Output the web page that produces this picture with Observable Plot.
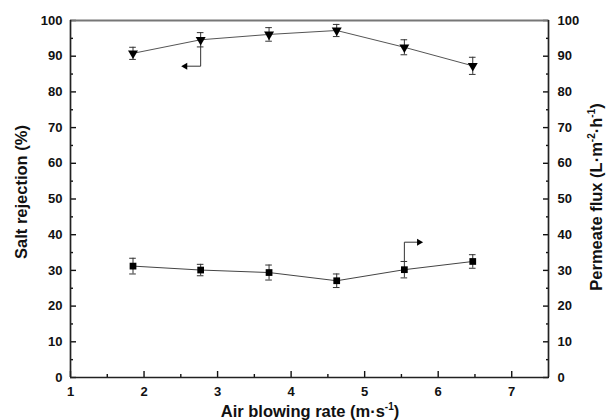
<!DOCTYPE html>
<html><head><meta charset="utf-8">
<script src="https://cdn.jsdelivr.net/npm/d3@7"></script>
<script src="https://cdn.jsdelivr.net/npm/@observablehq/plot@0.6"></script>
<style>body{margin:0;background:#fff}</style>
</head><body><div id="chart"></div>
<script>
const airRate = [1.85, 2.77, 3.70, 4.62, 5.54, 6.47];
const saltRejection = [90.8, 94.6, 96.1, 97.2, 92.5, 87.3];
const saltErr = [1.7, 2.0, 1.9, 1.7, 2.1, 2.4];
const permeateFlux = [31.2, 30.1, 29.4, 27.1, 30.2, 32.5];
const fluxErr = [2.2, 1.6, 2.1, 1.9, 2.3, 1.9];
const xTicks = [1, 2, 3, 4, 5, 6, 7];
const xMinorTicks = [1.5, 2.5, 3.5, 4.5, 5.5, 6.5];
const yTicks = [0, 10, 20, 30, 40, 50, 60, 70, 80, 90, 100];
const yMinorTicks = [5, 15, 25, 35, 45, 55, 65, 75, 85, 95];
// annotation arrows (elbow pointers to the axis each series belongs to)
const saltArrowX = [2.77, 2.77, 2.56];
const saltArrowY = [92.8, 87.2, 87.2];
const fluxArrowX = [5.54, 5.54, 5.74];
const fluxArrowY = [32.5, 37.9, 37.9];

const salt = airRate.map((x, i) => ({x, y: saltRejection[i], e: saltErr[i]}));
const flux = airRate.map((x, i) => ({x, y: permeateFlux[i], e: fluxErr[i]}));
const saltArrow = saltArrowX.map((x, i) => ({x, y: saltArrowY[i]}));
const fluxArrow = fluxArrowX.map((x, i) => ({x, y: fluxArrowY[i]}));
const capW = 0.045;

function errorMarks(data) {
  return [
    Plot.ruleX(data, {x: "x", y1: d => d.y - d.e, y2: d => d.y + d.e, stroke: "#333", strokeWidth: 1}),
    Plot.ruleY(data, {y: d => d.y + d.e, x1: d => d.x - capW, x2: d => d.x + capW, stroke: "#333", strokeWidth: 1}),
    Plot.ruleY(data, {y: d => d.y - d.e, x1: d => d.x - capW, x2: d => d.x + capW, stroke: "#333", strokeWidth: 1})
  ];
}

const svg = Plot.plot({
  width: 607, height: 420,
  marginLeft: 70, marginRight: 59, marginTop: 20, marginBottom: 43,
  x: {domain: [1, 7.5]},
  y: {domain: [0, 100]},
  style: {fontFamily: "'Liberation Sans', Arial, sans-serif", fontSize: "13px", fontWeight: "bold", color: "#111", background: "#fff"},
  marks: [
    Plot.axisX({ticks: xTicks, tickSize: -6, tickPadding: 15, tickFormat: d => d, label: null, strokeWidth: 1.4}),
    Plot.axisX({ticks: xMinorTicks, tickSize: -3, tickFormat: () => "", label: null, strokeWidth: 1.4}),
    Plot.axisY({ticks: yTicks, tickSize: -6, tickPadding: 14, tickFormat: d => d, label: null, strokeWidth: 1.4}),
    Plot.axisY({ticks: yMinorTicks, tickSize: -3, tickFormat: () => "", label: null, strokeWidth: 1.4}),
    Plot.axisY({ticks: yTicks, anchor: "right", tickSize: -6, tickPadding: 15, tickFormat: d => d, label: null, strokeWidth: 1.4}),
    Plot.axisY({ticks: yMinorTicks, anchor: "right", tickSize: -3, tickFormat: () => "", label: null, strokeWidth: 1.4}),
    Plot.ruleY([100], {stroke: "#777", strokeWidth: 2}),
    Plot.ruleY([0], {stroke: "#222", strokeWidth: 1.7}),
    Plot.ruleX([1], {stroke: "#222", strokeWidth: 1.7}),
    Plot.ruleX([7.5], {stroke: "#222", strokeWidth: 1.7}),
    Plot.line(salt, {x: "x", y: "y", stroke: "#555", strokeWidth: 1}),
    Plot.line(flux, {x: "x", y: "y", stroke: "#444", strokeWidth: 1}),
    ...errorMarks(salt),
    ...errorMarks(flux),
    Plot.dot(salt, {x: "x", y: "y", symbol: "triangle", r: 3.7, fill: "#000", rotate: 180}),
    Plot.dot(flux, {x: "x", y: "y", symbol: "square", r: 3.8, fill: "#000"}),
    Plot.line(saltArrow, {x: "x", y: "y", stroke: "#333", strokeWidth: 1}),
    Plot.line(fluxArrow, {x: "x", y: "y", stroke: "#333", strokeWidth: 1}),
    Plot.dot([saltArrow[2]], {x: "x", y: "y", symbol: "triangle", r: 2.6, fill: "#000", rotate: -90}),
    Plot.dot([fluxArrow[2]], {x: "x", y: "y", symbol: "triangle", r: 2.6, fill: "#000", rotate: 90})
  ]
});
document.getElementById("chart").appendChild(svg);

// axis titles with superscripts
const s = d3.select(svg);
const titleStyle = t => t.attr("font-family", "'Liberation Sans', Arial, sans-serif").attr("font-weight", "bold").attr("font-size", 16.5).attr("fill", "#111").attr("text-anchor", "middle");

const xt = s.append("text").attr("x", 310).attr("y", 417).call(titleStyle);
xt.append("tspan").text("Air blowing rate (m·s");
xt.append("tspan").attr("font-size", 10).attr("dy", -7).text("-1");
xt.append("tspan").attr("dy", 7).text(")");

s.append("text").attr("transform", "translate(27,192) rotate(-90)").call(titleStyle).text("Salt rejection (%)");

const yt = s.append("text").attr("transform", "translate(602,197) rotate(-90)").call(titleStyle);
yt.append("tspan").text("Permeate flux (L·m");
yt.append("tspan").attr("font-size", 10).attr("dy", -7).text("-2");
yt.append("tspan").attr("dy", 7).text("·h");
yt.append("tspan").attr("font-size", 10).attr("dy", -7).text("-1");
yt.append("tspan").attr("dy", 7).text(")");
</script>
</body></html>
